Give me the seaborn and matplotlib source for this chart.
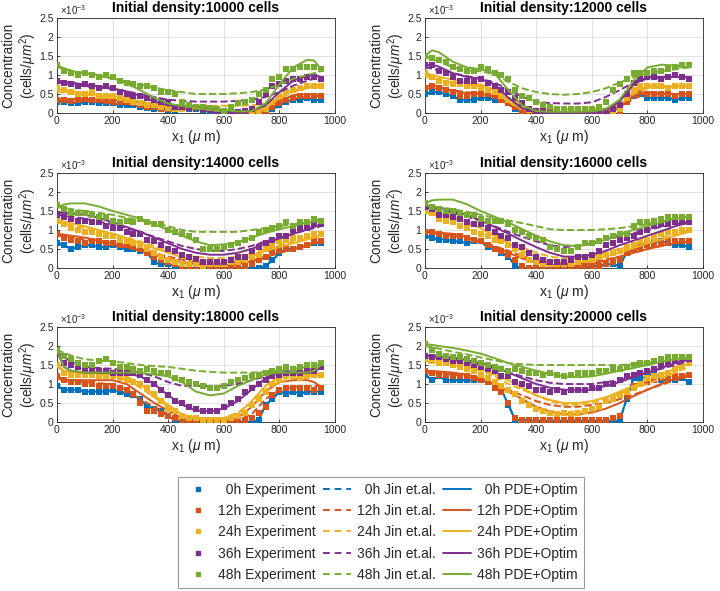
import matplotlib
matplotlib.use("Agg")
import matplotlib.pyplot as plt
import seaborn as sns
from matplotlib.lines import Line2D

# ---------------- data (concentration in units of 1e-3 cells/um^2) ----------------
times = ["0h", "12h", "24h", "36h", "48h"]
colors = ["#0072BD", "#D95319", "#EDB120", "#7E2F8E", "#77AC30"]
densities = [10000, 12000, 14000, 16000, 18000, 20000]

exp_x = list(range(0, 951, 25))
line_x = [0, 25, 50, 100, 150, 200, 250, 300, 350, 400, 450, 500, 550, 600, 650,
          700, 750, 800, 850, 900, 925, 950]

# experiment, one row per time (0h,12h,24h,36h,48h)
exp_10000 = [
    [0.28,0.3,0.27,0.25,0.3,0.3,0.27,0.25,0.25,0.22,0.22,0.2,0.15,0.12,0.1,0.1,0.08,0.08,0.1,0.1,0.1,0.08,0.05,0.02,0,0,0,0,0,0,0.02,0.1,0.2,0.3,0.35,0.35,0.4,0.35,0.33],
    [0.35,0.35,0.32,0.35,0.38,0.35,0.35,0.32,0.3,0.3,0.28,0.25,0.22,0.15,0.15,0.1,0.1,0.1,0.1,0.12,0.12,0.1,0.08,0.05,0.02,0,0,0,0,0.02,0.05,0.15,0.25,0.35,0.4,0.45,0.45,0.45,0.45],
    [0.65,0.6,0.55,0.5,0.5,0.55,0.45,0.45,0.45,0.4,0.35,0.3,0.25,0.2,0.2,0.15,0.12,0.1,0.1,0.12,0.12,0.1,0.1,0.05,0.05,0.02,0.02,0,0,0.05,0.1,0.3,0.45,0.55,0.6,0.65,0.7,0.72,0.72],
    [0.85,0.8,0.75,0.7,0.75,0.7,0.65,0.7,0.65,0.55,0.5,0.45,0.45,0.4,0.35,0.3,0.3,0.15,0.15,0.12,0.12,0.1,0.08,0.05,0.05,0.02,0.02,0.05,0.1,0.3,0.5,0.7,0.75,0.85,0.9,0.9,0.95,0.95,0.9],
    [1.25,1.1,1.05,1.0,1.05,1.0,0.95,1.0,0.95,0.85,0.8,0.75,0.7,0.72,0.65,0.55,0.55,0.5,0.3,0.2,0.15,0.15,0.12,0.1,0.05,0.15,0.25,0.3,0.35,0.5,0.6,0.9,0.95,1.15,1.15,1.2,1.2,1.2,1.15],
]
exp_12000 = [
    [0.5,0.55,0.55,0.5,0.45,0.35,0.35,0.35,0.4,0.4,0.35,0.35,0.25,0.1,0,0,0,0,0,0,0,0,0,0,0,0,0,0.05,0.15,0.3,0.45,0.5,0.4,0.4,0.4,0.4,0.35,0.4,0.4],
    [0.65,0.7,0.65,0.6,0.55,0.45,0.45,0.5,0.5,0.5,0.45,0.35,0.25,0.15,0.05,0,0,0,0,0,0,0,0,0,0,0,0,0,0.05,0.3,0.5,0.55,0.5,0.5,0.5,0.5,0.45,0.5,0.5],
    [1.05,0.95,0.85,0.8,0.75,0.75,0.7,0.7,0.65,0.6,0.55,0.45,0.35,0.25,0.15,0.08,0.05,0.05,0.05,0.05,0.05,0.05,0.05,0.05,0.05,0.05,0.05,0.05,0.1,0.4,0.6,0.7,0.7,0.7,0.7,0.65,0.7,0.7,0.7],
    [1.25,1.25,1.1,1.05,0.95,0.85,0.85,0.85,0.9,0.8,0.7,0.6,0.55,0.4,0.25,0.1,0.05,0.05,0.05,0.05,0.05,0.05,0.05,0.05,0.05,0.05,0.05,0.1,0.2,0.5,0.8,0.9,0.95,0.95,0.9,0.95,1.0,0.95,0.9],
    [1.5,1.45,1.4,1.35,1.2,1.15,1.1,1.1,1.2,1.15,1.05,1.0,0.9,0.6,0.45,0.4,0.3,0.2,0.15,0.1,0.1,0.1,0.1,0.1,0.1,0.15,0.3,0.6,0.75,0.9,1.05,1.05,1.05,1.1,1.1,1.15,1.2,1.25,1.25],
]
exp_14000 = [
    [0.65,0.6,0.5,0.55,0.6,0.6,0.55,0.55,0.6,0.55,0.5,0.5,0.45,0.4,0.15,0.1,0.1,0.05,0,0,0,0,0,0,0,0,0,0,0,0,0.05,0.2,0.4,0.5,0.5,0.55,0.6,0.65,0.65],
    [0.9,0.8,0.75,0.7,0.65,0.7,0.7,0.65,0.65,0.6,0.6,0.55,0.5,0.4,0.3,0.2,0.15,0.1,0.05,0.05,0.05,0,0,0.05,0.05,0.05,0.05,0.05,0.1,0.2,0.3,0.45,0.5,0.55,0.5,0.55,0.6,0.7,0.7],
    [1.25,1.15,1.05,1.0,0.95,0.95,0.9,0.85,0.85,0.75,0.7,0.65,0.6,0.5,0.4,0.3,0.2,0.15,0.1,0.1,0.1,0.05,0.1,0.1,0.1,0.15,0.15,0.2,0.3,0.35,0.5,0.6,0.7,0.75,0.8,0.8,0.85,0.9,0.9],
    [1.4,1.35,1.3,1.25,1.25,1.2,1.2,1.1,1.05,1.05,0.95,0.9,0.9,0.75,0.7,0.6,0.5,0.45,0.35,0.3,0.25,0.15,0.15,0.15,0.15,0.2,0.3,0.3,0.45,0.55,0.65,0.75,0.85,0.85,1.0,1.05,1.05,1.15,1.15],
    [1.65,1.55,1.45,1.45,1.45,1.4,1.35,1.35,1.25,1.2,1.25,1.2,1.3,1.2,1.15,1.15,1.0,0.95,0.9,0.85,0.75,0.5,0.5,0.5,0.55,0.6,0.65,0.75,0.8,0.95,1.0,1.05,1.1,1.2,1.1,1.2,1.2,1.3,1.25],
]
exp_16000 = [
    [0.85,0.8,0.75,0.75,0.7,0.7,0.65,0.7,0.7,0.55,0.5,0.4,0.3,0.05,0,0,0,0,0,0,0,0,0,0,0.05,0.05,0.1,0.1,0.05,0.4,0.5,0.6,0.65,0.7,0.7,0.65,0.6,0.6,0.55],
    [0.95,0.95,0.9,0.85,0.85,0.85,0.8,0.75,0.7,0.6,0.5,0.45,0.35,0.2,0.05,0,0,0,0,0,0,0,0,0.05,0.05,0.05,0.1,0.15,0.2,0.4,0.5,0.55,0.6,0.6,0.65,0.7,0.7,0.7,0.7],
    [1.5,1.45,1.3,1.25,1.2,1.1,1.05,0.95,0.9,0.85,0.75,0.7,0.6,0.5,0.35,0.2,0.15,0.1,0.1,0.1,0.1,0.1,0.15,0.2,0.2,0.3,0.35,0.4,0.45,0.55,0.6,0.7,0.75,0.85,0.9,0.95,0.95,1.0,1.0],
    [1.6,1.55,1.4,1.4,1.35,1.3,1.2,1.15,1.15,1.05,0.95,0.85,0.8,0.6,0.55,0.4,0.3,0.2,0.15,0.15,0.15,0.2,0.3,0.3,0.35,0.45,0.6,0.65,0.75,0.8,0.85,0.95,1.0,1.1,1.15,1.15,1.2,1.2,1.2],
    [1.7,1.6,1.55,1.5,1.5,1.45,1.4,1.4,1.3,1.25,1.25,1.25,1.15,1.0,0.95,0.85,0.8,0.75,0.55,0.5,0.45,0.45,0.55,0.65,0.65,0.7,0.8,0.85,0.9,0.9,1.1,1.2,1.2,1.25,1.3,1.35,1.35,1.35,1.35],
]
exp_18000 = [
    [0.95,0.85,0.85,0.85,0.8,0.8,0.8,0.8,0.85,0.8,0.75,0.7,0.6,0.4,0.35,0.3,0.15,0.05,0,0,0,0,0,0,0,0,0,0,0,0.05,0.45,0.6,0.8,0.75,0.8,0.75,0.8,0.8,0.8],
    [1.2,1.1,1.05,1.05,1.0,1.0,0.95,0.95,0.95,0.9,0.85,0.75,0.5,0.3,0.3,0.2,0.15,0.1,0.05,0,0,0,0,0,0,0,0.05,0.05,0.1,0.25,0.4,0.7,0.85,0.9,0.9,0.9,0.9,0.85,0.9],
    [1.5,1.3,1.25,1.25,1.25,1.25,1.2,1.2,1.2,1.15,1.1,1.05,1.0,0.9,0.75,0.55,0.35,0.3,0.15,0.1,0.1,0.05,0.05,0.05,0.05,0.1,0.15,0.25,0.45,0.6,0.8,1.0,1.1,1.2,1.2,1.15,1.2,1.25,1.25],
    [1.8,1.55,1.5,1.45,1.4,1.4,1.35,1.35,1.3,1.3,1.3,1.3,1.25,1.1,1.0,0.85,0.7,0.55,0.5,0.4,0.35,0.3,0.3,0.3,0.4,0.5,0.6,0.8,0.9,1.0,1.1,1.2,1.25,1.3,1.3,1.3,1.35,1.35,1.45],
    [1.9,1.75,1.65,1.55,1.5,1.5,1.6,1.65,1.55,1.45,1.45,1.4,1.35,1.4,1.35,1.3,1.3,1.15,1.1,1.05,1.0,0.95,0.9,0.9,0.95,1.05,1.1,1.15,1.2,1.25,1.3,1.35,1.4,1.45,1.4,1.45,1.5,1.5,1.55],
]
exp_20000 = [
    [1.25,1.1,1.2,1.1,1.1,1.1,1.1,1.1,1.1,1.05,1.0,0.85,0.45,0.05,0.05,0.05,0.03,0.03,0.03,0.03,0.03,0.03,0.03,0.03,0.03,0.03,0.03,0.03,0.03,0.6,1.15,1.15,1.2,1.3,1.1,1.1,1.1,1.15,1.05],
    [1.35,1.3,1.25,1.25,1.2,1.2,1.2,1.15,1.1,1.05,0.9,0.8,0.5,0.1,0.05,0.05,0.05,0.05,0.05,0.05,0.05,0.05,0.05,0.05,0.05,0.05,0.05,0.1,0.15,0.75,0.95,1.0,1.05,1.1,1.15,1.15,1.2,1.2,1.25],
    [1.65,1.6,1.55,1.55,1.5,1.45,1.4,1.35,1.25,1.15,1.05,0.95,0.85,0.75,0.55,0.45,0.35,0.3,0.25,0.2,0.25,0.2,0.25,0.3,0.35,0.4,0.55,0.6,0.7,0.8,0.9,1.0,1.15,1.2,1.25,1.3,1.4,1.45,1.55],
    [1.75,1.7,1.7,1.65,1.6,1.6,1.55,1.5,1.45,1.4,1.35,1.2,1.2,1.05,1.0,0.95,0.85,0.85,0.8,0.85,0.8,0.85,0.85,0.85,0.9,0.9,1.0,1.0,1.1,1.2,1.25,1.3,1.35,1.4,1.5,1.55,1.6,1.65,1.65],
    [2.05,1.9,1.8,1.75,1.7,1.7,1.65,1.6,1.55,1.5,1.45,1.4,1.35,1.4,1.35,1.3,1.3,1.25,1.3,1.25,1.2,1.25,1.3,1.3,1.3,1.35,1.35,1.4,1.4,1.45,1.5,1.55,1.55,1.6,1.65,1.7,1.7,1.7,1.7],
]

# Jin et al. model (12h..48h) on line_x
jin_10000 = [
    [0.33,0.33,0.33,0.32,0.3,0.28,0.25,0.2,0.15,0.12,0.1,0.1,0.08,0.06,0.05,0.05,0.1,0.25,0.38,0.42,0.44,0.45],
    [0.55,0.54,0.52,0.48,0.45,0.42,0.37,0.3,0.25,0.2,0.19,0.19,0.19,0.19,0.19,0.2,0.25,0.38,0.55,0.65,0.68,0.7],
    [0.8,0.78,0.75,0.7,0.67,0.63,0.57,0.5,0.42,0.35,0.32,0.3,0.3,0.3,0.32,0.35,0.42,0.55,0.72,0.85,0.9,0.95],
    [1.2,1.17,1.12,1.05,0.98,0.9,0.83,0.75,0.67,0.6,0.55,0.5,0.5,0.5,0.52,0.55,0.62,0.75,0.9,1.0,1.05,1.1],
]
jin_12000 = [
    [0.65,0.64,0.63,0.6,0.55,0.5,0.42,0.22,0.06,0.02,0.02,0.02,0.02,0.02,0.04,0.12,0.38,0.5,0.5,0.5,0.5,0.5],
    [0.95,0.92,0.88,0.8,0.75,0.7,0.6,0.35,0.18,0.1,0.1,0.1,0.1,0.1,0.12,0.22,0.5,0.65,0.68,0.7,0.7,0.7],
    [1.2,1.17,1.12,1.05,0.97,0.9,0.8,0.62,0.42,0.3,0.26,0.25,0.25,0.28,0.42,0.6,0.8,0.9,0.93,0.95,0.95,0.95],
    [1.5,1.42,1.35,1.2,1.12,1.1,1.02,0.82,0.65,0.55,0.5,0.48,0.5,0.55,0.65,0.8,0.95,1.05,1.1,1.15,1.18,1.2],
]
jin_14000 = [
    [0.85,0.83,0.8,0.75,0.7,0.65,0.58,0.5,0.4,0.3,0.22,0.15,0.12,0.12,0.15,0.2,0.3,0.4,0.5,0.6,0.65,0.7],
    [1.2,1.17,1.13,1.05,0.98,0.9,0.8,0.7,0.58,0.45,0.36,0.3,0.26,0.26,0.3,0.38,0.5,0.6,0.7,0.78,0.82,0.85],
    [1.4,1.38,1.35,1.3,1.22,1.15,1.05,0.95,0.82,0.7,0.58,0.5,0.45,0.45,0.5,0.58,0.7,0.8,0.9,1.0,1.05,1.1],
    [1.6,1.58,1.55,1.5,1.45,1.4,1.32,1.25,1.18,1.1,1.0,0.95,0.95,0.95,0.95,1.0,1.05,1.1,1.15,1.2,1.25,1.3],
]
jin_16000 = [
    [0.95,0.93,0.9,0.85,0.78,0.7,0.58,0.45,0.32,0.2,0.14,0.1,0.12,0.15,0.22,0.3,0.4,0.5,0.58,0.65,0.68,0.7],
    [1.45,1.42,1.38,1.3,1.18,1.05,0.88,0.7,0.55,0.4,0.3,0.25,0.25,0.3,0.4,0.5,0.6,0.7,0.8,0.9,0.95,1.0],
    [1.6,1.57,1.53,1.45,1.35,1.25,1.1,0.95,0.82,0.7,0.6,0.55,0.58,0.65,0.75,0.85,0.92,1.0,1.08,1.15,1.18,1.2],
    [1.65,1.63,1.6,1.55,1.48,1.4,1.32,1.25,1.18,1.1,1.02,1.0,1.0,1.0,1.02,1.05,1.1,1.15,1.22,1.3,1.33,1.35],
]
jin_18000 = [
    [1.15,1.1,1.08,1.05,1.02,1.0,0.85,0.6,0.4,0.2,0.05,0.02,0.02,0.02,0.05,0.2,0.6,0.85,0.92,0.95,0.95,0.95],
    [1.45,1.35,1.3,1.28,1.26,1.25,1.1,0.9,0.65,0.4,0.2,0.1,0.1,0.1,0.25,0.5,0.85,1.05,1.15,1.2,1.22,1.25],
    [1.85,1.7,1.6,1.45,1.42,1.4,1.35,1.3,1.2,1.05,0.95,0.95,0.95,0.95,1.0,1.1,1.2,1.3,1.33,1.35,1.37,1.4],
    [1.9,1.82,1.75,1.65,1.62,1.6,1.55,1.5,1.47,1.45,1.4,1.35,1.32,1.3,1.3,1.3,1.32,1.35,1.4,1.45,1.48,1.5],
]
jin_20000 = [
    [1.3,1.29,1.28,1.25,1.2,1.1,1.0,0.85,0.7,0.55,0.45,0.4,0.4,0.45,0.5,0.6,0.72,0.85,0.98,1.1,1.15,1.2],
    [1.6,1.58,1.56,1.5,1.45,1.35,1.2,1.0,0.85,0.7,0.55,0.45,0.45,0.5,0.6,0.75,0.88,1.0,1.15,1.3,1.38,1.45],
    [1.75,1.73,1.7,1.65,1.58,1.5,1.4,1.3,1.2,1.1,1.03,1.0,1.0,1.0,1.05,1.1,1.2,1.3,1.4,1.5,1.55,1.6],
    [2.0,1.97,1.93,1.85,1.78,1.7,1.62,1.55,1.52,1.5,1.5,1.5,1.5,1.5,1.5,1.5,1.52,1.55,1.6,1.65,1.68,1.7],
]

# PDE+Optim model (12h..48h) on line_x
pde_10000 = [
    [0.35,0.36,0.37,0.37,0.36,0.35,0.32,0.27,0.2,0.13,0.11,0.12,0.09,0.04,0.01,0.0,0.08,0.32,0.47,0.5,0.48,0.45],
    [0.62,0.6,0.57,0.52,0.48,0.45,0.38,0.3,0.22,0.15,0.13,0.14,0.1,0.05,0.02,0.02,0.12,0.4,0.6,0.68,0.72,0.75],
    [0.85,0.83,0.8,0.75,0.7,0.65,0.57,0.45,0.3,0.2,0.17,0.18,0.12,0.05,0.03,0.05,0.2,0.55,0.85,0.98,1.0,0.95],
    [1.25,1.18,1.1,1.05,1.0,0.92,0.78,0.6,0.4,0.25,0.18,0.2,0.15,0.08,0.04,0.05,0.25,0.75,1.2,1.4,1.38,1.15],
]
pde_12000 = [
    [0.7,0.72,0.7,0.58,0.52,0.5,0.45,0.22,0.05,0.0,0.0,0.0,0.0,0.0,0.02,0.15,0.45,0.55,0.52,0.5,0.5,0.5],
    [1.05,1.0,0.95,0.88,0.8,0.75,0.6,0.3,0.1,0.03,0.03,0.03,0.03,0.03,0.05,0.2,0.55,0.7,0.72,0.7,0.7,0.7],
    [1.25,1.27,1.22,1.05,0.95,0.9,0.75,0.4,0.12,0.03,0.02,0.02,0.02,0.03,0.08,0.3,0.75,0.95,0.95,0.95,0.95,0.93],
    [1.5,1.65,1.6,1.35,1.2,1.15,1.05,0.6,0.2,0.05,0.03,0.03,0.03,0.04,0.1,0.35,0.85,1.2,1.27,1.25,1.22,1.2],
]
pde_14000 = [
    [0.9,0.88,0.85,0.8,0.72,0.65,0.55,0.45,0.35,0.25,0.15,0.1,0.06,0.06,0.1,0.18,0.28,0.4,0.5,0.6,0.65,0.7],
    [1.25,1.22,1.18,1.1,1.0,0.9,0.78,0.65,0.52,0.4,0.28,0.2,0.15,0.15,0.2,0.3,0.45,0.55,0.65,0.75,0.8,0.85],
    [1.45,1.45,1.44,1.4,1.32,1.2,1.08,0.95,0.8,0.65,0.5,0.4,0.35,0.35,0.4,0.5,0.65,0.78,0.9,1.02,1.08,1.15],
    [1.6,1.67,1.7,1.7,1.62,1.5,1.4,1.3,1.15,1.0,0.85,0.7,0.6,0.62,0.68,0.8,0.92,1.02,1.1,1.2,1.22,1.25],
]
pde_16000 = [
    [0.95,0.95,0.93,0.9,0.82,0.7,0.55,0.4,0.25,0.15,0.08,0.05,0.06,0.1,0.2,0.3,0.4,0.5,0.58,0.65,0.68,0.7],
    [1.5,1.47,1.43,1.35,1.22,1.05,0.85,0.65,0.45,0.3,0.2,0.15,0.15,0.2,0.3,0.4,0.52,0.65,0.75,0.85,0.9,0.95],
    [1.55,1.58,1.6,1.5,1.4,1.25,1.08,0.9,0.72,0.55,0.4,0.3,0.3,0.35,0.45,0.6,0.72,0.85,0.97,1.1,1.15,1.2],
    [1.7,1.78,1.8,1.8,1.68,1.5,1.35,1.2,1.02,0.85,0.7,0.6,0.58,0.62,0.75,0.9,1.0,1.1,1.2,1.3,1.33,1.35],
]
pde_18000 = [
    [1.2,1.13,1.1,1.1,1.1,1.1,1.0,0.75,0.5,0.3,0.1,0.05,0.05,0.05,0.1,0.4,0.8,1.05,1.1,1.1,1.05,0.92],
    [1.5,1.35,1.32,1.3,1.3,1.3,1.2,1.0,0.7,0.45,0.2,0.1,0.1,0.1,0.2,0.55,0.95,1.2,1.25,1.25,1.25,1.25],
    [1.85,1.45,1.35,1.3,1.3,1.3,1.28,1.2,1.0,0.7,0.45,0.3,0.28,0.35,0.55,0.85,1.15,1.3,1.3,1.3,1.32,1.45],
    [1.9,1.45,1.35,1.3,1.3,1.3,1.3,1.3,1.25,1.2,1.05,0.8,0.7,0.75,0.95,1.1,1.25,1.3,1.3,1.3,1.35,1.5],
]
pde_20000 = [
    [1.35,1.34,1.33,1.3,1.25,1.15,1.0,0.8,0.6,0.4,0.28,0.2,0.2,0.25,0.35,0.5,0.68,0.85,1.0,1.15,1.2,1.25],
    [1.7,1.68,1.66,1.6,1.52,1.4,1.25,1.1,0.9,0.7,0.58,0.5,0.5,0.55,0.65,0.8,0.95,1.1,1.25,1.4,1.48,1.55],
    [1.75,1.74,1.73,1.7,1.63,1.55,1.45,1.3,1.15,1.0,0.9,0.85,0.83,0.85,0.95,1.05,1.18,1.3,1.42,1.55,1.6,1.65],
    [2.05,2.03,2.0,1.95,1.88,1.8,1.68,1.55,1.45,1.35,1.27,1.2,1.18,1.2,1.27,1.35,1.42,1.5,1.58,1.65,1.68,1.7],
]

exp_all = [exp_10000, exp_12000, exp_14000, exp_16000, exp_18000, exp_20000]
jin_all = [jin_10000, jin_12000, jin_14000, jin_16000, jin_18000, jin_20000]
pde_all = [pde_10000, pde_12000, pde_14000, pde_16000, pde_18000, pde_20000]

xticks = [0, 200, 400, 600, 800, 1000]
yticks = [0, 0.5, 1, 1.5, 2, 2.5]
ytick_labels = ["0", "0.5", "1", "1.5", "2", "2.5"]

# ---------------- style ----------------
sns.set_theme(style="whitegrid")
plt.rcParams["font.family"] = ["Liberation Sans", "DejaVu Sans"]
plt.rcParams["mathtext.fontset"] = "custom"
plt.rcParams["mathtext.rm"] = "Liberation Sans"
plt.rcParams["mathtext.it"] = "Liberation Sans:italic"
plt.rcParams["mathtext.bf"] = "Liberation Sans:bold"

TXT = "#262626"
fig = plt.figure(figsize=(7.2, 5.91), dpi=100)
fig.patch.set_facecolor("white")

W, H = 720.0, 591.0
col_left = [57, 425]
row_top = [18, 173, 327]
ax_w, ax_h = 278, 95

LW = 1.4
MS = 14

for i, dens in enumerate(densities):
    r, c = divmod(i, 2)
    left = col_left[c] / W
    bottom = 1 - (row_top[r] + ax_h) / H
    ax = fig.add_axes([left, bottom, ax_w / W, ax_h / H])
    ax.set_facecolor("white")
    exp = exp_all[i]
    jin = jin_all[i]
    pde = pde_all[i]
    for t in range(5):
        col = colors[t]
        sns.scatterplot(x=exp_x, y=exp[t], marker="s", s=MS, color=col,
                        linewidth=0, ax=ax, zorder=3 + t)
        if t == 0:
            sns.lineplot(x=exp_x, y=exp[0], color=col, lw=LW, linestyle="--",
                         estimator=None, sort=False, ax=ax, zorder=3)
            sns.lineplot(x=exp_x, y=exp[0], color=col, lw=LW,
                         estimator=None, sort=False, ax=ax, zorder=3)
        else:
            sns.lineplot(x=line_x, y=jin[t - 1], color=col, lw=LW, linestyle="--",
                         dashes=(3.5, 2.5), estimator=None, sort=False, ax=ax, zorder=3 + t)
            sns.lineplot(x=line_x, y=pde[t - 1], color=col, lw=LW,
                         estimator=None, sort=False, ax=ax, zorder=3 + t)
    ax.set_xlim(0, 1000)
    ax.set_ylim(0, 2.5)
    ax.set_xticks(xticks)
    ax.set_yticks(yticks)
    ax.set_yticklabels(ytick_labels)
    ax.tick_params(axis="both", which="major", labelsize=7.5, colors=TXT,
                   direction="in", length=2.5, width=0.6, pad=2.5, left=True, bottom=True)
    ax.grid(True, color="#dcdcdc", lw=0.6)
    for sp in ax.spines.values():
        sp.set_visible(True)
        sp.set_color("#262626")
        sp.set_linewidth(0.6)
    ax.set_title(f"Initial density:{dens} cells", fontsize=10, fontweight="bold",
                 color="black", pad=4)
    ax.set_xlabel(r"x$_1$ ($\mu$ m)", fontsize=10, color=TXT, labelpad=1)
    ax.set_ylabel("Concentration\n(cells/$\\mu m^2$)", fontsize=9.8, color=TXT,
                  linespacing=1.12)
    ax.yaxis.set_label_coords(-0.066, 0.5)
    ax.text(0.01, 1.01, r"$\times10^{-3}$", transform=ax.transAxes, fontsize=7,
            color=TXT, ha="left", va="bottom")

# ---------------- legend ----------------
FS = "\u2007"  # figure space so that labels line up on the right
def tlabel(t):
    return (FS if len(times[t]) == 2 else "") + times[t]

handles, labels = [], []
for t in range(5):
    handles.append(Line2D([], [], marker="s", ls="none", color=colors[t], markersize=3.5))
    labels.append(f"{tlabel(t)} Experiment")
for t in range(5):
    handles.append(Line2D([], [], ls="--", dashes=(3.5, 2.5), color=colors[t], lw=LW))
    labels.append(f"{tlabel(t)} Jin et.al.")
for t in range(5):
    handles.append(Line2D([], [], ls="-", color=colors[t], lw=LW))
    labels.append(f"{tlabel(t)} PDE+Optim")

leg = fig.legend(handles, labels, ncol=3, loc="lower left",
                 bbox_to_anchor=(178 / W, 3 / H), borderaxespad=0,
                 fontsize=10, frameon=True,
                 fancybox=False, edgecolor="#808080", handlelength=2.0,
                 labelspacing=0.52, columnspacing=0.5, handletextpad=0.45,
                 borderpad=0.45)
leg.get_frame().set_linewidth(0.8)
for txt in leg.get_texts():
    txt.set_color(TXT)

fig.savefig("out.png", dpi=100, facecolor="white")
